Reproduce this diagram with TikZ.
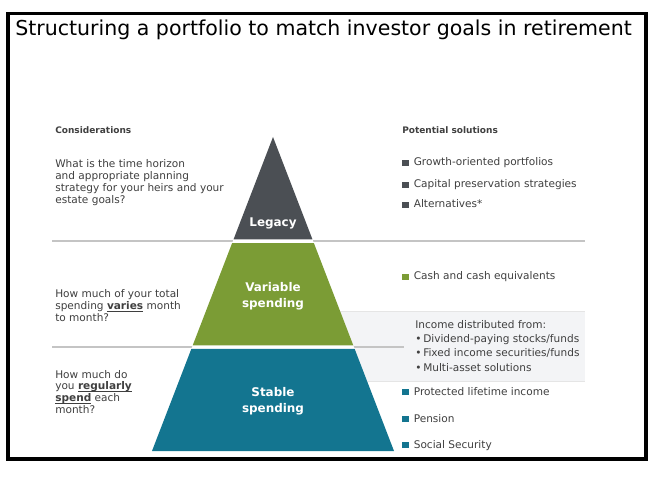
\documentclass[tikz,border=0pt]{standalone}
\usepackage{fontspec}
\setmainfont{DejaVu Sans}
\usepackage{tikz}
\usetikzlibrary{calc}
\usepackage{tkz-euclide}
\usepackage{xcolor}
\definecolor{legacyc}{HTML}{4B4F54}
\definecolor{variablec}{HTML}{7B9C35}
\definecolor{stablec}{HTML}{137590}
\definecolor{txtc}{HTML}{3F3F3F}
\definecolor{rulec}{HTML}{C4C4C4}
\definecolor{boxc}{HTML}{F3F4F6}
\newlength{\ulwd}
\newcommand{\sqmark}[1]{\textcolor{#1}{\rule{4.6pt}{4.6pt}}\hspace{3.6pt}}
\newcommand{\ulword}[1]{\settowidth{\ulwd}{\textbf{#1}}\textbf{#1}\hspace{-\ulwd}\rule[-1.3pt]{\ulwd}{0.5pt}}

\begin{document}
\begin{tikzpicture}[x=0.025cm, y=-0.025cm,
    body/.style={font=\fontsize{7.5}{8.5}\selectfont, text=txtc, align=left, inner sep=0pt, anchor=base west},
    head/.style={font=\fontsize{6.4}{8}\selectfont\bfseries, text=txtc, inner sep=0pt, anchor=base west},
    band/.style={font=\fontsize{8.5}{11.4}\selectfont\bfseries, text=white, align=center, inner sep=0pt},
    sepline/.style={draw=rulec, line width=1pt}]
            \useasboundingbox (0,0) rectangle (662,477);
            \draw[line width=2.5pt] (8,13.5) rectangle (646,459);
            \node[anchor=base west, inner sep=0pt, font=\fontsize{14.6}{17}\selectfont] (title) at (15,36) {Structuring a portfolio to match investor goals in retirement};
            \fill[boxc] (300,311) rectangle (585,381);
            \draw[gray!20, line width=0.7pt] (300,311) -- (585,311) (300,381) -- (585,381);
            \draw[sepline] (52,241) -- (585,241);
            \draw[sepline] (52,347) -- (404,347);
            \tkzDefPoints{273/137/K, 152/451/L, 394/451/R}
            \tkzDefPointOnLine[pos = 0.326](K,L) \tkzGetPoint{La}
            \tkzDefPointOnLine[pos = 0.326](K,R) \tkzGetPoint{Ra}
            \tkzDefPointOnLine[pos = 0.338](K,L) \tkzGetPoint{Lb}
            \tkzDefPointOnLine[pos = 0.338](K,R) \tkzGetPoint{Rb}
            \tkzDefPointOnLine[pos = 0.664](K,L) \tkzGetPoint{Lc}
            \tkzDefPointOnLine[pos = 0.664](K,R) \tkzGetPoint{Rc}
            \tkzDefPointOnLine[pos = 0.675](K,L) \tkzGetPoint{Ld}
            \tkzDefPointOnLine[pos = 0.675](K,R) \tkzGetPoint{Rd}
            \fill[white] (K) -- (L) -- (R) -- cycle;
            \fill[legacyc] (K) -- (La) -- (Ra) -- cycle;
            \fill[variablec] (Lb) -- (Lc) -- (Rc) -- (Rb) -- cycle;
            \fill[stablec] (Ld) -- (L) -- (R) -- (Rd) -- cycle;
            \node[band] (legacy) at (273,223) {Legacy};
            \node[band] (variable) at (273,296) {Variable\\spending};
            \node[band] (stable) at (273,401) {Stable\\spending};
            \node[head] (consid) at (55,134) {Considerations};
            \node[body, anchor=west] (q1) at (55,183) {What is the time horizon\\and appropriate planning\\strategy for your heirs and your\\estate goals?};
            \node[body, anchor=west] (q2) at (55,306) {How much of your total\\spending \ulword{varies} month\\to month?};
            \node[body, anchor=west] (q3) at (55,392) {How much do\\you \ulword{regularly}\\\ulword{spend} each\\month?};
            \node[head] (sol) at (402,134) {Potential solutions};
            \node[body] (s1) at (402,166) {\sqmark{legacyc}Growth-oriented portfolios};
            \node[body] (s2) at (402,188) {\sqmark{legacyc}Capital preservation strategies};
            \node[body] (s3) at (402,208) {\sqmark{legacyc}Alternatives*};
            \node[body] (s4) at (402,280) {\sqmark{variablec}Cash and cash equivalents};
            \node[body, anchor=west, font=\fontsize{7.5}{10}\selectfont] (income) at (415,346) {Income distributed from:\\•\,Dividend-paying stocks/funds\\•\,Fixed income securities/funds\\•\,Multi-asset solutions};
            \node[body] (s6) at (402,395) {\sqmark{stablec}Protected lifetime income};
            \node[body] (s7) at (402,422) {\sqmark{stablec}Pension};
            \node[body] (s8) at (402,448) {\sqmark{stablec}Social Security};
        \end{tikzpicture}
\end{document}
